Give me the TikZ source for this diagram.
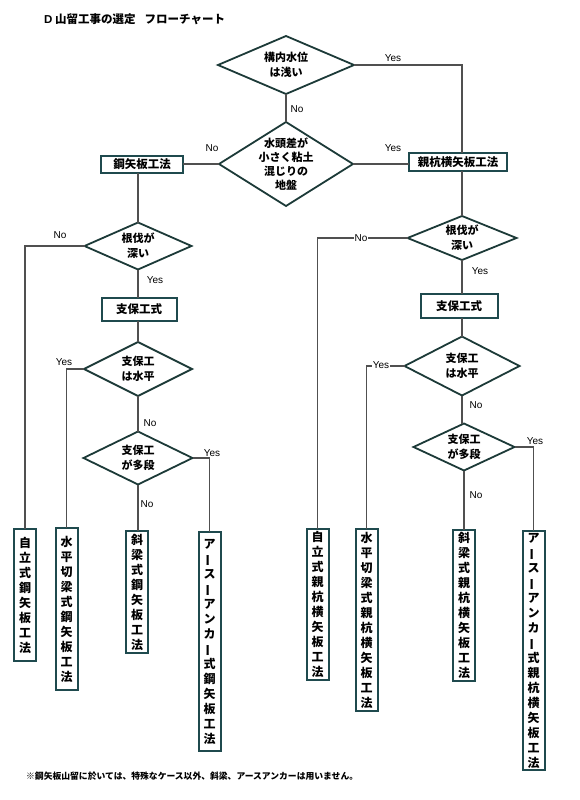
\documentclass[tikz,border=0pt]{standalone}
\usepackage{fontspec}
\setmainfont{Liberation Sans}
\newfontfamily\jp{Noto Sans CJK JP}
\usetikzlibrary{shapes.geometric}
\definecolor{boxcol}{RGB}{31,74,78}
\definecolor{diacol}{RGB}{28,58,56}
\definecolor{linegray}{RGB}{80,80,80}
\newcommand\vchoon{\rotatebox[origin=c]{90}{ー}}
\tikzset{
 conn/.style={draw=linegray, line width=1.1pt},
 dia/.style={shape=diamond, draw=diacol, line width=1.8pt, inner sep=0pt, outer sep=0pt},
 hbox/.style={draw=boxcol, line width=2pt, inner sep=0pt, outer sep=0pt, font=\jp\bfseries\fontsize{11.5}{14}\selectfont},
 vbox/.style={draw=boxcol, line width=2pt, inner sep=0pt, outer sep=0pt, anchor=north, minimum width=22pt, align=center, font=\jp\bfseries\fontsize{12}{15}\selectfont},
 dtext/.style={align=center, inner sep=0pt, font=\jp\bfseries\fontsize{11}{15}\selectfont},
 yn/.style={font=\fontsize{10}{11}\selectfont, inner sep=1pt},
}
\begin{document}
\begin{tikzpicture}[x=1pt,y=-1pt]
\useasboundingbox[fill=white] (0,0) rectangle (580,800);
% title
\node[anchor=west, inner sep=0pt, font=\jp\bfseries\fontsize{11.5}{13}\selectfont] (title) at (44,19) {{\fontspec{Liberation Sans}\bfseries D} 山留工事の選定\hspace{9pt}フローチャート};
% diamonds
\node[dia, minimum width=136pt, minimum height=58pt] (d1) at (286,65) {};
\node[dtext] (d1t) at (d1) {構内水位\\は浅い};
\node[dia, minimum width=134pt, minimum height=84pt] (d2) at (286,164) {};
\node[dtext, font=\jp\bfseries\fontsize{11}{14}\selectfont] (d2t) at (d2) {水頭差が\\小さく粘土\\混じりの\\地盤};
% main boxes
\node[hbox, minimum width=82pt, minimum height=17pt] (b1) at (142,164) {鋼矢板工法};
\node[hbox, minimum width=98pt, minimum height=18pt] (b2) at (458,162) {親杭横矢板工法};
% left column
\node[dia, minimum width=107pt, minimum height=47pt] (d3) at (138,246) {};
\node[dtext] (d3t) at (d3) {根伐が\\深い};
\node[hbox, minimum width=75pt, minimum height=23pt] (s1) at (139,309.5) {支保工式};
\node[dia, minimum width=108pt, minimum height=54pt] (d4) at (138,369) {};
\node[dtext] (d4t) at (d4) {支保工\\は水平};
\node[dia, minimum width=109pt, minimum height=53pt] (d5) at (138,458) {};
\node[dtext] (d5t) at (d5) {支保工\\が多段};
\node[vbox, minimum height=132pt] (v1) at (25,529) {自\\立\\式\\鋼\\矢\\板\\工\\法};
\node[vbox, minimum height=162pt] (v2) at (66.5,528) {水\\平\\切\\梁\\式\\鋼\\矢\\板\\工\\法};
\node[vbox, minimum height=122pt] (v3) at (137,531) {斜\\梁\\式\\鋼\\矢\\板\\工\\法};
\node[vbox, minimum height=219pt] (v4) at (209.5,532) {ア\\\vchoon\\ス\\\vchoon\\ア\\ン\\カ\\\vchoon\\式\\鋼\\矢\\板\\工\\法};
% right column
\node[dia, minimum width=109pt, minimum height=44pt] (d6) at (462,238) {};
\node[dtext] (d6t) at (d6) {根伐が\\深い};
\node[hbox, minimum width=77pt, minimum height=24pt] (s2) at (459,306) {支保工式};
\node[dia, minimum width=115pt, minimum height=59pt] (d7) at (462,366) {};
\node[dtext] (d7t) at (d7) {支保工\\は水平};
\node[dia, minimum width=101pt, minimum height=47pt] (d8) at (464,447) {};
\node[dtext] (d8t) at (d8) {支保工\\が多段};
\node[vbox, minimum height=151pt] (w1) at (317.5,529) {自\\立\\式\\親\\杭\\横\\矢\\板\\工\\法};
\node[vbox, minimum height=182pt] (w2) at (366.5,529) {水\\平\\切\\梁\\式\\親\\杭\\横\\矢\\板\\工\\法};
\node[vbox, minimum height=151pt] (w3) at (464,530) {斜\\梁\\式\\親\\杭\\横\\矢\\板\\工\\法};
\node[vbox, minimum height=239pt] (w4) at (533.5,531) {ア\\\vchoon\\ス\\\vchoon\\ア\\ン\\カ\\\vchoon\\式\\親\\杭\\横\\矢\\板\\工\\法};
% footnote
\node[anchor=west, inner sep=0pt, font=\jp\bfseries\fontsize{8.8}{10}\selectfont] (fn) at (26,776) {※鋼矢板山留に於いては、特殊なケース以外、斜梁、アースアンカーは用いません。};
% connectors
\draw[conn] (d1.east) -| (d6.north |- b2.north);
\draw[conn] (d1.south) -- (d2.north);
\draw[conn] (d2.west) -- (b1.east |- d2.west);
\draw[conn] (d2.east) -- (b2.west |- d2.east);
\draw[conn] (d3.north |- b1.south) -- (d3.north);
\draw[conn] (d6.north |- b2.south) -- (d6.north);
% left
\draw[conn] (d3.west) -| (v1.north);
\draw[conn] (d3.south) -- (d3.south |- s1.north);
\draw[conn] (d4.north |- s1.south) -- (d4.north);
\draw[conn] (d4.west) -| (v2.north);
\draw[conn] (d4.south) -- (d5.north);
\draw[conn] (d5.east) -| (v4.north);
\draw[conn] (d5.south) -- (d5.south |- v3.north);
% right
\draw[conn] (d6.west) -| (w1.north);
\draw[conn] (d6.south) -- (d6.south |- s2.north);
\draw[conn] (d7.north |- s2.south) -- (d7.north);
\draw[conn] (d7.west) -| (w2.north);
\draw[conn] (d7.south) -- (d7.south |- d8.north);
\draw[conn] (d8.east) -| (w4.north);
\draw[conn] (d8.south) -- (w3.north);
% labels
\node[yn] (y1) at (393,58) {Yes};
\node[yn] (n1) at (297,109) {No};
\node[yn] (n2) at (212,148) {No};
\node[yn] (y2) at (393,148) {Yes};
\node[yn] (n3) at (60,235) {No};
\node[yn] (y3) at (155,280) {Yes};
\node[yn] (y4) at (64,362) {Yes};
\node[yn] (n4) at (150,423) {No};
\node[yn] (y5) at (212,453) {Yes};
\node[yn] (n5) at (147,504) {No};
\node[yn, fill=white] (n6) at (361,238) {No};
\node[yn] (y6) at (480,271) {Yes};
\node[yn, fill=white] (y7) at (381,365) {Yes};
\node[yn] (n7) at (476,405) {No};
\node[yn] (y8) at (535,441) {Yes};
\node[yn] (n8) at (476,495) {No};
\end{tikzpicture}
\end{document}
